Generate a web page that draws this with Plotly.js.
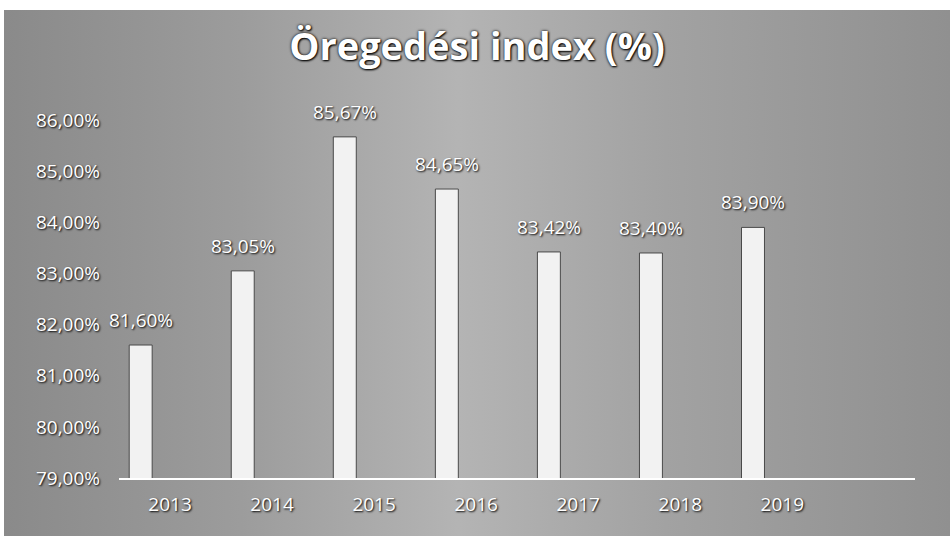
<!DOCTYPE html>
<html>
<head>
<meta charset="utf-8">
<script src="https://cdn.plot.ly/plotly-3.0.1.min.js"></script>
<style>
html,body{margin:0;padding:0;background:#fff;width:950px;height:536px;overflow:hidden;}
#chart{position:absolute;left:4px;top:10px;width:946px;height:526px;
background:linear-gradient(90deg,#8a8a8a 0%,#9c9c9c 25%,#b4b4b4 48%,#a2a2a2 70%,#909090 100%);}
</style>
</head>
<body>
<div id="chart"></div>
<script>
const years = ['2013','2014','2015','2016','2017','2018','2019'];
const values = [81.60, 83.05, 85.67, 84.65, 83.42, 83.40, 83.90];
const yTicks = [79, 80, 81, 82, 83, 84, 85, 86];

const fmt = v => v.toFixed(2).replace('.', ',') + '%';
const mkFont = () => ({family: 'Open Sans, sans-serif', size: 19, color: '#ffffff',
  shadow: '1px 1px 2px #000'});

const trace = {
  type: 'bar', x: years, y: values,
  offset: -0.40, width: 0.225,
  marker: {color: '#f2f2f2', line: {color: '#4a4a4a', width: 1}},
  hoverinfo: 'skip'
};

const annotations = values.map((v, i) => ({
  x: i, y: v, xref: 'x', yref: 'y',
  text: fmt(v), showarrow: false,
  xanchor: 'center', yanchor: 'bottom',
  xshift: -29, yshift: 10, font: mkFont()
}));

const layout = {
  width: 946, height: 526,
  margin: {l: 115, r: 35, t: 110, b: 58},
  paper_bgcolor: 'rgba(0,0,0,0)', plot_bgcolor: 'rgba(0,0,0,0)',
  separators: ',.',
  showlegend: false,
  title: {text: 'Öregedési index (%)', x: 0.5, xanchor: 'center', y: 0.93, yanchor: 'middle',
    font: {family: 'Open Sans, sans-serif', size: 38, weight: 700, color: '#ffffff',
      shadow: '0 0 3px #000, 1px 1px 2px #000'}},
  xaxis: {type: 'category', range: [-0.5, 7.3], showgrid: false, zeroline: false,
    showline: true, linecolor: '#ffffff', linewidth: 2, ticks: '',
    tickfont: mkFont(), ticklabelstandoff: 8},
  yaxis: {range: [79, 86], tickvals: yTicks, ticktext: yTicks.map(v => fmt(v)),
    showgrid: false, zeroline: false, showline: false, ticks: '',
    tickfont: mkFont(), ticklabelstandoff: 18},
  annotations: annotations
};

Plotly.newPlot('chart', [trace], layout, {displayModeBar: false, staticPlot: true});
</script>
</body>
</html>
